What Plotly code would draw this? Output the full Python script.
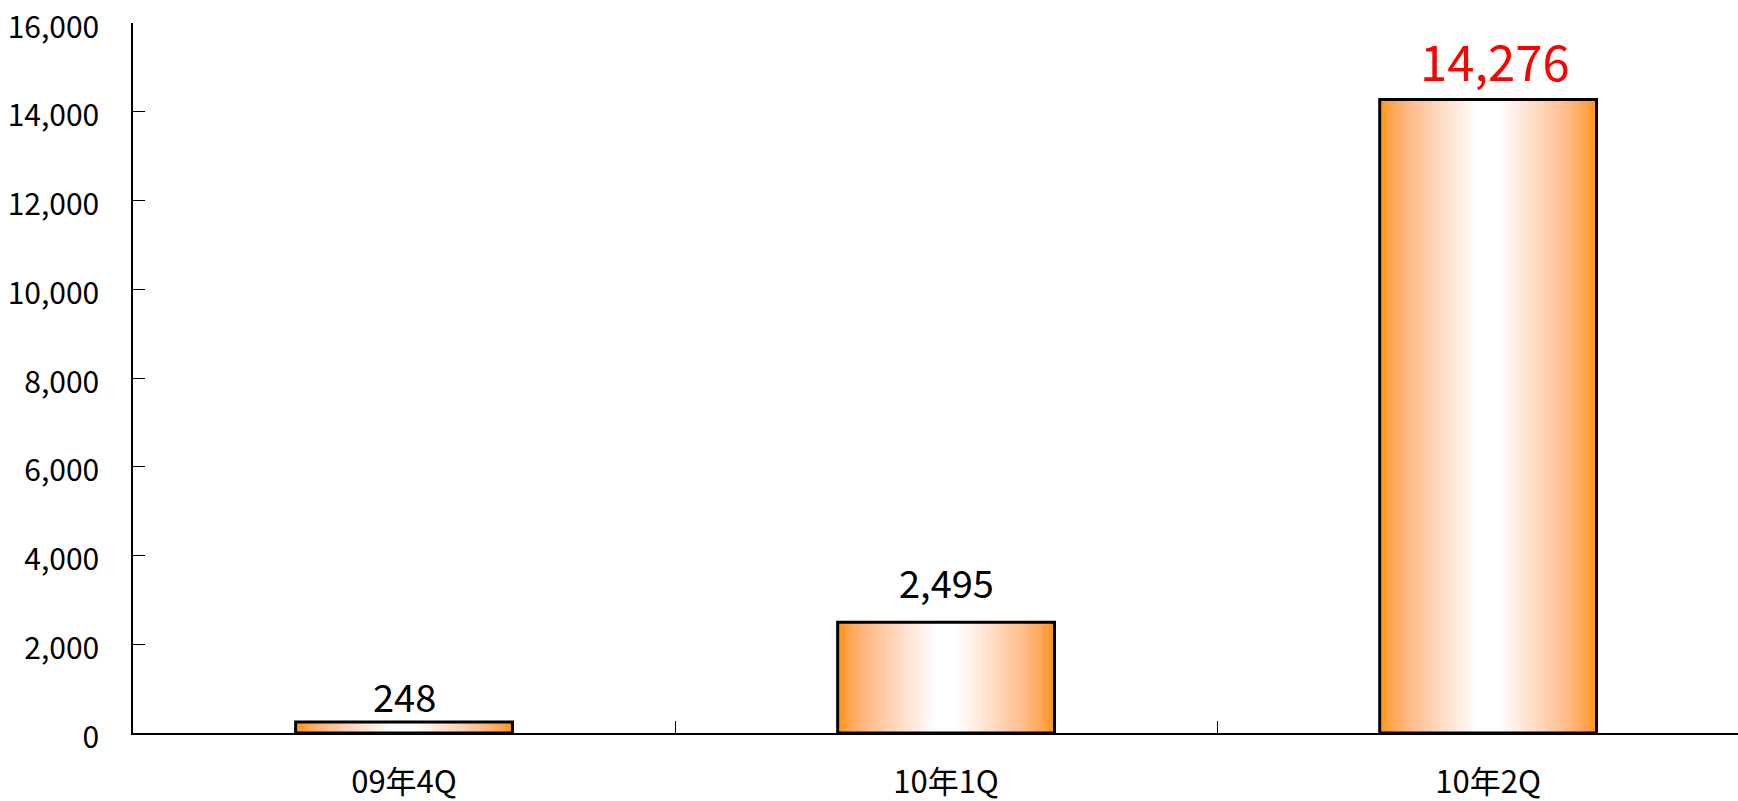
import plotly.graph_objects as go

# ---- data ----
categories = ["09年4Q", "10年1Q", "10年2Q"]
values = [248, 2495, 14276]
y_ticks = [0, 2000, 4000, 6000, 8000, 10000, 12000, 14000, 16000]

# ---- styles ----
FONT = "Noto Sans CJK JP"
BAR_W = 0.4
ORANGE = (255, 153, 31)
label_colors = ["black", "black", "#ff0000"]
label_sizes = [38, 38, 49]
label_shifts = [-3, 11, 3]
label_xshifts = [0, 0, 7]

fig = go.Figure()

# gradient fill built from overlaid bars of shrinking width
N = 40
for k in range(N):
    f = k / N
    t = min(1.0, max(0.0, (f - 0.03) / 0.87))
    tg = t ** 0.85
    tb = t ** 0.6
    col = (255,
           round(ORANGE[1] + (255 - ORANGE[1]) * tg),
           round(ORANGE[2] + (255 - ORANGE[2]) * tb))
    fig.add_trace(go.Bar(
        x=categories, y=values,
        width=[BAR_W * (1 - f)] * len(categories),
        marker=dict(color=f"rgb{col}", line=dict(width=0)),
        hoverinfo="skip", showlegend=False,
    ))

# outline
fig.add_trace(go.Bar(
    x=categories, y=values,
    width=[BAR_W] * len(categories),
    marker=dict(color="rgba(0,0,0,0)", line=dict(color="black", width=3)),
    showlegend=False,
))

for c, v, col, sz, sh, xs in zip(categories, values, label_colors, label_sizes,
                                 label_shifts, label_xshifts):
    fig.add_annotation(
        x=c, y=v, text=f"{v:,}", showarrow=False,
        yanchor="bottom", yshift=sh, xshift=xs,
        font=dict(family=FONT, size=sz, color=col),
    )

fig.update_layout(
    width=1738, height=801,
    barmode="overlay",
    plot_bgcolor="white", paper_bgcolor="white",
    margin=dict(l=133, r=0, t=23, b=68, pad=0),
    font=dict(family=FONT, color="black"),
    xaxis=dict(
        type="category",
        range=[-0.5, 2.461],
        automargin=False,
        showline=True, linecolor="black", linewidth=1.5,
        ticks="inside", ticklen=12, tickcolor="black", tickwidth=1,
        tickson="boundaries",
        ticklabelstandoff=21,
        ticklabeloverflow="allow",
        tickfont=dict(family=FONT, size=31, color="black"),
        showgrid=False, zeroline=False,
    ),
    yaxis=dict(
        range=[0, 16000.5],
        automargin=False,
        tickvals=y_ticks,
        tickformat=",d",
        showline=True, linecolor="black", linewidth=1.5,
        ticks="inside", ticklen=12, tickcolor="black", tickwidth=1,
        ticklabelstandoff=26,
        ticklabelshift=4,
        ticklabeloverflow="allow",
        tickfont=dict(family=FONT, size=30, color="black"),
        showgrid=False, zeroline=False,
    ),
)

fig.write_html("out.html", config={"displayModeBar": False},
               post_script="document.body.style.margin='0';")
